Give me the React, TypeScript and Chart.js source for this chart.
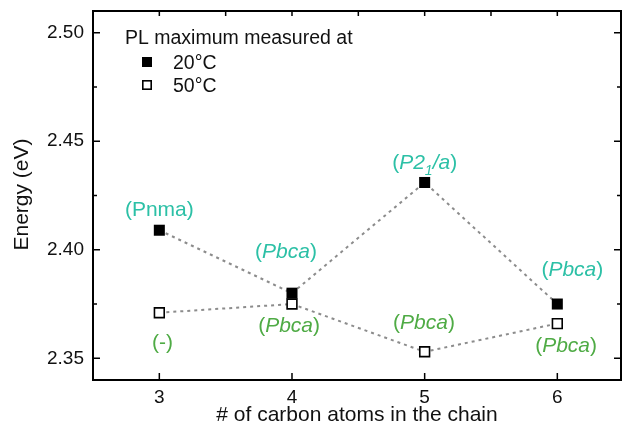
import React, { useEffect, useRef } from 'react';
import { Chart, registerables } from 'chart.js';

Chart.register(...registerables);

// ---- data ----
const carbonAtoms = [3, 4, 5, 6];
const energy20C = [2.409, 2.38, 2.431, 2.375];
const energy50C = [2.371, 2.375, 2.353, 2.366];
const xTicks = [3, 4, 5, 6];
const xMinorTicks = [3.5, 4.5, 5.5];
const yTicks = [2.35, 2.4, 2.45, 2.5];
const yMinorTicks = [2.375, 2.425, 2.475];

// phase labels (* toggles italic, _x = subscript)
const phase20C = ['(Pnma)', '(*Pbca*)', '(*P2_1/a*)', '(*Pbca*)'];
const phase50C = ['(-)', '(*Pbca*)', '(*Pbca*)', '(*Pbca*)'];
// label anchors in data units (centre x, baseline y)
const phase20CX = [3.0, 3.955, 5.0, 6.113];
const phase20CY = [2.4156, 2.3964, 2.4372, 2.3877];
const phase50CX = [3.024, 3.978, 4.995, 6.066];
const phase50CY = [2.3545, 2.3623, 2.3637, 2.3531];

const legendTitle = 'PL maximum measured at';
const seriesNames = ['20°C', '50°C'];
const xTitle = '# of carbon atoms in the chain';
const yTitle = 'Energy (eV)';

const FONT = '"Liberation Sans", Arial, sans-serif';
const TEAL = '#2cc0a6';
const GREEN = '#4fab45';

type Seg = { t: string; it: boolean; sub: boolean };
function parseRich(s: string): Seg[] {
  const segs: Seg[] = [];
  let it = false;
  for (let i = 0; i < s.length; i++) {
    const c = s[i];
    if (c === '*') { it = !it; continue; }
    if (c === '_') { segs.push({ t: s[i + 1], it, sub: true }); i++; continue; }
    const last = segs[segs.length - 1];
    if (last && last.it === it && !last.sub) last.t += c;
    else segs.push({ t: c, it, sub: false });
  }
  return segs;
}

function drawRich(ctx: CanvasRenderingContext2D, s: string, cx: number, by: number, size: number, color: string) {
  const segs = parseRich(s);
  const fontFor = (sg: Seg) => `${sg.it ? 'italic ' : ''}${sg.sub ? Math.round(size * 0.65) : size}px ${FONT}`;
  let total = 0;
  const widths = segs.map((sg) => { ctx.font = fontFor(sg); const w = ctx.measureText(sg.t).width; total += w; return w; });
  let x = cx - total / 2;
  ctx.fillStyle = color;
  ctx.textAlign = 'left';
  ctx.textBaseline = 'alphabetic';
  segs.forEach((sg, i) => {
    ctx.font = fontFor(sg);
    ctx.fillText(sg.t, x, by + (sg.sub ? size * 0.28 : 0));
    x += widths[i];
  });
}

const framePlugin = {
  id: 'frameAndText',
  afterDraw(chart: any) {
    const { ctx, chartArea: a, scales } = chart;
    const xs = scales.x, ys = scales.y;
    ctx.save();
    // frame
    ctx.strokeStyle = '#000';
    ctx.lineWidth = 2;
    ctx.strokeRect(a.left, a.top, a.right - a.left, a.bottom - a.top);
    ctx.lineWidth = 1.5;
    ctx.beginPath();
    const tick = (x1: number, y1: number, x2: number, y2: number) => { ctx.moveTo(x1, y1); ctx.lineTo(x2, y2); };
    yTicks.forEach((v) => { const p = ys.getPixelForValue(v); tick(a.left, p, a.left + 7, p); tick(a.right, p, a.right - 7, p); });
    yMinorTicks.forEach((v) => { const p = ys.getPixelForValue(v); tick(a.left, p, a.left + 4, p); tick(a.right, p, a.right - 4, p); });
    xTicks.forEach((v) => { const p = xs.getPixelForValue(v); tick(p, a.bottom, p, a.bottom - 7); tick(p, a.top, p, a.top + 5); });
    xMinorTicks.forEach((v) => { const p = xs.getPixelForValue(v); tick(p, a.top, p, a.top + 5); });
    ctx.stroke();

    // phase labels
    phase20C.forEach((s, i) => drawRich(ctx, s, xs.getPixelForValue(phase20CX[i]), ys.getPixelForValue(phase20CY[i]), 21, TEAL));
    phase50C.forEach((s, i) => drawRich(ctx, s, xs.getPixelForValue(phase50CX[i]), ys.getPixelForValue(phase50CY[i]), 21, GREEN));

    // legend
    ctx.fillStyle = '#111';
    ctx.font = `19.5px ${FONT}`;
    ctx.textAlign = 'left';
    ctx.textBaseline = 'alphabetic';
    ctx.fillText(legendTitle, a.left + 32, a.top + 32.5);
    const sq = 10;
    const lx = a.left + 54;
    [a.top + 51, a.top + 74].forEach((cy, i) => {
      if (i === 0) {
        ctx.fillStyle = '#000';
        ctx.fillRect(lx - sq / 2, cy - sq / 2, sq, sq);
      } else {
        ctx.fillStyle = '#fff';
        ctx.fillRect(lx - sq / 2, cy - sq / 2, sq, sq);
        ctx.strokeStyle = '#000';
        ctx.lineWidth = 1.6;
        ctx.strokeRect(lx - sq / 2 + 0.8, cy - sq / 2 + 0.8, sq - 1.6, sq - 1.6);
      }
      ctx.fillStyle = '#111';
      ctx.fillText(seriesNames[i], a.left + 80, cy + 6.5);
    });

    // axis titles
    ctx.font = `21px ${FONT}`;
    ctx.fillStyle = '#111';
    ctx.textAlign = 'center';
    ctx.fillText(xTitle, (a.left + a.right) / 2, 421);
    ctx.save();
    ctx.translate(28, (a.top + a.bottom) / 2 - 1);
    ctx.rotate(-Math.PI / 2);
    ctx.fillText(yTitle, 0, 0);
    ctx.restore();
    ctx.restore();
  },
};

export default function App() {
  const ref = useRef<HTMLCanvasElement | null>(null);
  useEffect(() => {
    document.body.style.margin = '0';
    const canvas = ref.current!;
    const chart = new Chart(canvas, {
      type: 'line',
      data: {
        datasets: [
          {
            label: seriesNames[1],
            data: carbonAtoms.map((x, i) => ({ x, y: energy50C[i] })),
            borderColor: '#8c8c8c',
            borderWidth: 2,
            borderDash: [3, 4],
            pointStyle: 'rect',
            pointRadius: 6.9,
            pointBackgroundColor: '#fff',
            pointBorderColor: '#000',
            pointBorderWidth: 1.6,
            order: 0,
          },
          {
            label: seriesNames[0],
            data: carbonAtoms.map((x, i) => ({ x, y: energy20C[i] })),
            borderColor: '#8c8c8c',
            borderWidth: 2,
            borderDash: [3, 4],
            pointStyle: 'rect',
            pointRadius: 7.8,
            pointBackgroundColor: '#000',
            pointBorderColor: '#000',
            pointBorderWidth: 0,
            order: 1,
          },
        ],
      },
      options: {
        animation: false,
        responsive: true,
        maintainAspectRatio: false,
        layout: { autoPadding: false, padding: { top: 11, right: 2, left: 0, bottom: 0 } },
        plugins: { legend: { display: false }, tooltip: { enabled: false } },
        scales: {
          x: {
            type: 'linear',
            min: 2.5,
            max: 6.48,
            afterBuildTicks: (s: any) => { s.ticks = xTicks.map((v) => ({ value: v })); },
            afterFit: (s: any) => { s.height = 49; s.paddingLeft = 0; s.paddingRight = 0; s.paddingTop = 0; s.paddingBottom = 0; },
            grid: { display: false, drawTicks: false },
            border: { display: false },
            ticks: { padding: 6, color: '#111', font: { size: 19, family: FONT }, callback: (v: any) => String(v) },
          },
          y: {
            type: 'linear',
            min: 2.34,
            max: 2.51,
            afterBuildTicks: (s: any) => { s.ticks = yTicks.map((v) => ({ value: v })); },
            afterFit: (s: any) => { s.width = 93; s.paddingLeft = 0; s.paddingRight = 0; s.paddingTop = 0; s.paddingBottom = 0; },
            grid: { display: false, drawTicks: false },
            border: { display: false },
            ticks: { padding: 9, color: '#111', font: { size: 19, family: FONT }, callback: (v: any) => Number(v).toFixed(2) },
          },
        },
      },
      plugins: [framePlugin],
    } as any);
    return () => chart.destroy();
  }, []);
  return (
    <div style={{ width: 623, height: 429, position: 'relative' }}>
      <canvas ref={ref} />
    </div>
  );
}
